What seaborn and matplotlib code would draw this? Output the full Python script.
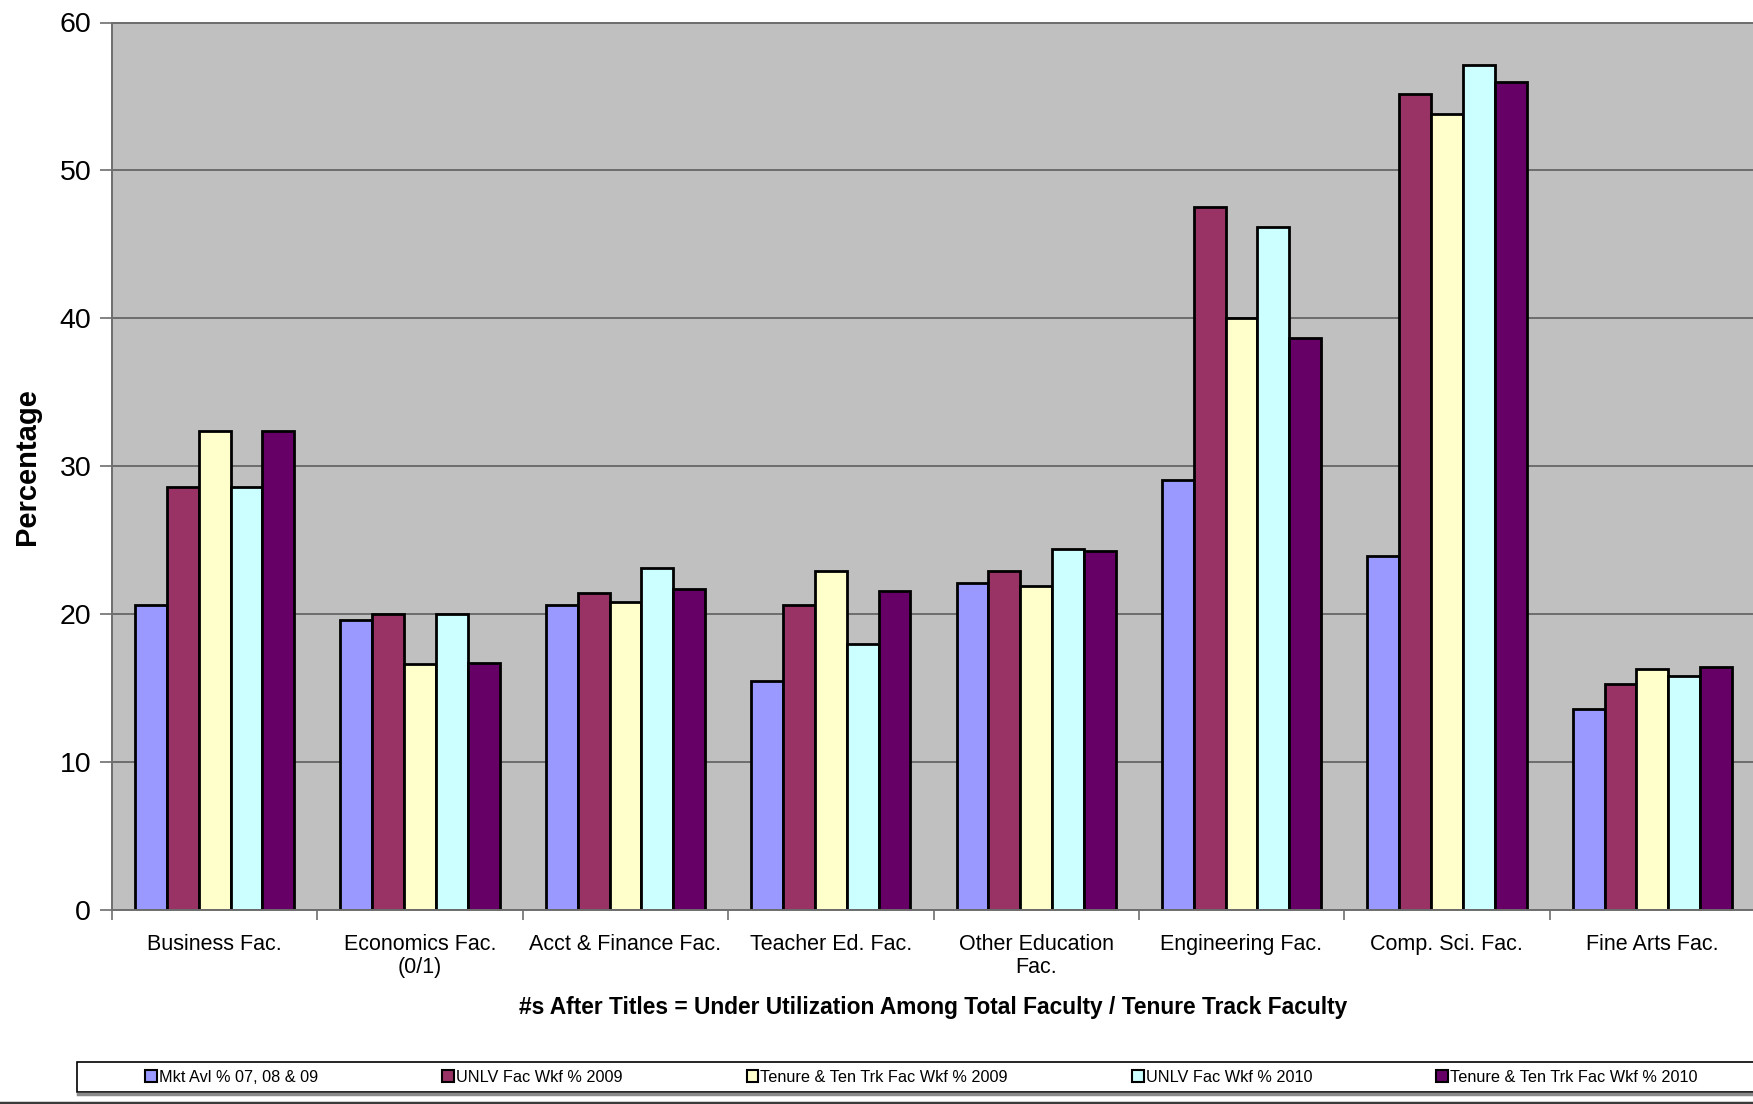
import matplotlib
matplotlib.use("Agg")
import matplotlib.pyplot as plt
from matplotlib.patches import Rectangle
from matplotlib.lines import Line2D
from matplotlib.ticker import FixedLocator
import pandas as pd
import seaborn as sns

# Faculty groups and the five workforce series (percent)
categories = [
    "Business Fac.",
    "Economics Fac.\n(0/1)",
    "Acct & Finance Fac.",
    "Teacher Ed. Fac.",
    "Other Education\nFac.",
    "Engineering Fac.",
    "Comp. Sci. Fac.",
    "Fine Arts Fac.",
]
series = [
    "Mkt Avl % 07, 08 & 09",
    "UNLV Fac Wkf % 2009",
    "Tenure & Ten Trk Fac Wkf % 2009",
    "UNLV Fac Wkf % 2010",
    "Tenure & Ten Trk Fac Wkf % 2010",
]
mkt_avl = [20.6, 19.6, 20.6, 15.5, 22.1, 29.1, 23.9, 13.6]
unlv_2009 = [28.6, 20.0, 21.4, 20.6, 22.9, 47.5, 55.2, 15.3]
tenure_2009 = [32.4, 16.6, 20.8, 22.9, 21.9, 40.0, 53.8, 16.3]
unlv_2010 = [28.6, 20.0, 23.1, 18.0, 24.4, 46.2, 57.1, 15.8]
tenure_2010 = [32.4, 16.7, 21.7, 21.6, 24.3, 38.7, 56.0, 16.4]
y_ticks = [0, 10, 20, 30, 40, 50, 60]

colors = ["#9999FF", "#993366", "#FFFFCC", "#CCFFFF", "#660066"]

values = [mkt_avl, unlv_2009, tenure_2009, unlv_2010, tenure_2010]
rows = []
for s, vals in zip(series, values):
    for c, v in zip(categories, vals):
        rows.append({"category": c, "series": s, "value": v})
df = pd.DataFrame(rows)

plt.rcParams["font.family"] = ["Liberation Sans", "DejaVu Sans"]

W, H = 1753, 1104
fig = plt.figure(figsize=(W / 100, H / 100), dpi=100)
ax = fig.add_axes([112 / W, 1 - 910 / H, (1755 - 112) / W, (910 - 22.5) / H])

sns.barplot(
    data=df, x="category", y="value", hue="series",
    order=categories, hue_order=series, palette=colors,
    saturation=1, width=0.775, edgecolor="black", linewidth=2,
    errorbar=None, ax=ax,
)

ax.set_facecolor("#C0C0C0")
ax.set_xlim(-0.5, len(categories) - 0.5)
ax.set_ylim(0, 60)
ax.set_yticks(y_ticks)
ax.yaxis.grid(True, color="#555555", linewidth=1.1)
ax.set_axisbelow(True)

for side in ["left", "bottom", "top"]:
    ax.spines[side].set_color("#6e6e6e")
    ax.spines[side].set_linewidth(1.4)
ax.spines["right"].set_visible(False)

ax.tick_params(axis="y", labelsize=20.5, length=9, width=1.2, color="#6e6e6e", pad=6)
ax.tick_params(axis="x", which="major", labelsize=15.5, length=0, pad=17)
ax.xaxis.set_minor_locator(FixedLocator([i - 0.5 for i in range(len(categories) + 1)]))
ax.tick_params(axis="x", which="minor", length=7, width=1.2, color="#6e6e6e")
for lbl in ax.get_xticklabels():
    lbl.set_linespacing(1.15)

ax.set_xlabel(
    "#s After Titles = Under Utilization Among Total Faculty / Tenure Track Faculty",
    fontsize=16.4, fontweight="bold", labelpad=13,
)
ax.set_ylabel("Percentage", fontsize=21, fontweight="bold")
ax.yaxis.set_label_coords(-0.043, 0.5)

handles, labels = ax.get_legend_handles_labels()
ax.get_legend().remove()

# legend box along the bottom
fig.add_artist(Rectangle((77 / W, 1 - 1092 / H), 1.0, 30 / H, transform=fig.transFigure,
                         facecolor="white", edgecolor="black", linewidth=1.2, zorder=1))
fig.add_artist(Line2D([78 / W, 1.0], [1 - 1093.5 / H] * 2, transform=fig.transFigure,
                      color="#8a8a8a", linewidth=2.5, zorder=1))
leg = fig.legend(
    handles, labels, loc="center left", bbox_to_anchor=(145 / W, 1 - 1077 / H),
    ncol=5, frameon=False, fontsize=11.7, handlelength=0.72, handleheight=0.72,
    handletextpad=0.12, columnspacing=7.65, borderpad=0, borderaxespad=0,
)
leg.set_zorder(3)
for h in leg.legend_handles:
    h.set_linewidth(1.5)
    h.set_edgecolor("black")

fig.add_artist(Line2D([0, 1], [1.5 / H] * 2, transform=fig.transFigure,
                      color="#3a3a3a", linewidth=2.5))

fig.savefig("out.png", dpi=100, facecolor="white")
